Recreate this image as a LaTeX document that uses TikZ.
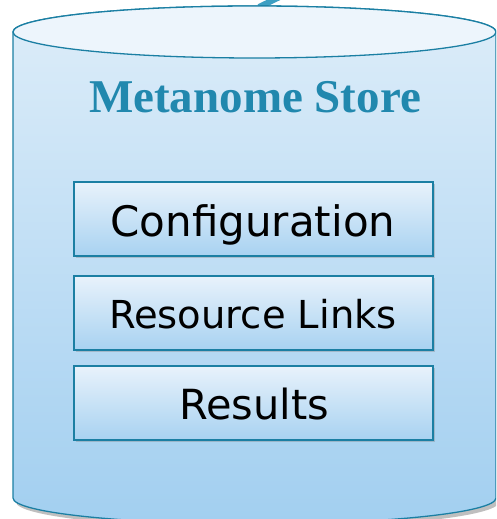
\documentclass[tikz,border=0pt]{standalone}
\usepackage{fontspec}
\setmainfont{DejaVu Sans}
\newfontfamily\titlefont{Liberation Serif}
\usetikzlibrary{shadows}
\definecolor{edge}{HTML}{1B7FA3}
\definecolor{stub}{HTML}{3D9FC3}
\definecolor{titlec}{HTML}{2188AE}
\definecolor{cyltop}{HTML}{EDF5FC}
\definecolor{cylhi}{HTML}{DDEDF9}
\definecolor{cyllo}{HTML}{A2CFF0}
\definecolor{boxhi}{HTML}{E8F2FB}
\definecolor{boxlo}{HTML}{A8D2F1}
\tikzset{
  itembox/.style={draw=edge, line width=1.3pt, top color=boxhi, bottom color=boxlo,
    minimum width=359pt, minimum height=74pt, inner sep=0pt,
    drop shadow={opacity=0.35, shadow xshift=1.5pt, shadow yshift=-2pt}},
  itemtext/.style={anchor=base, text=black, inner sep=0pt},
}
\begin{document}
\begin{tikzpicture}[x=1pt,y=1pt]
\useasboundingbox (0,0) rectangle (496,519);
\clip (0,0) rectangle (496,519);
% connector stub leaving the top
\coordinate (stubA) at (259,512);
\coordinate (stubB) at (292,528);
\draw[stub, line width=6pt] (stubA) -- (stubB);
% cylinder body
\fill[black, opacity=0.25] (16,484) -- (16,17) arc[start angle=180, end angle=360, x radius=241.5, y radius=26] -- (499,484) -- cycle;
\path[top color=cylhi, bottom color=cyllo, draw=edge, line width=1.3pt]
  (13,487) -- (13,21) arc[start angle=180, end angle=360, x radius=241.5, y radius=26]
  -- (496,487) arc[start angle=0, end angle=180, x radius=241.5, y radius=26] -- cycle;
\path[fill=cyltop, draw=edge, line width=1.3pt] (254.5,487) ellipse[x radius=241.5, y radius=26];
% title
\node[anchor=base, text=titlec, inner sep=0pt, font=\titlefont\bfseries\fontsize{47}{50}\selectfont] (title) at (255,406) {Metanome Store};
% boxes
\node[itembox] (conf) at (253.5,300) {};
\node[itembox] (res) at (253.5,206) {};
\node[itembox] (resu) at (253.5,116) {};
\node[itemtext, font=\fontsize{42}{44}\selectfont] (conft) at (253,282) {Configuration};
\node[itemtext, font=\fontsize{38.5}{40}\selectfont] (rest) at (253,190) {Resource Links};
\node[itemtext, font=\fontsize{41.5}{43}\selectfont] (resut) at (254,99) {Results};
\end{tikzpicture}
\end{document}
